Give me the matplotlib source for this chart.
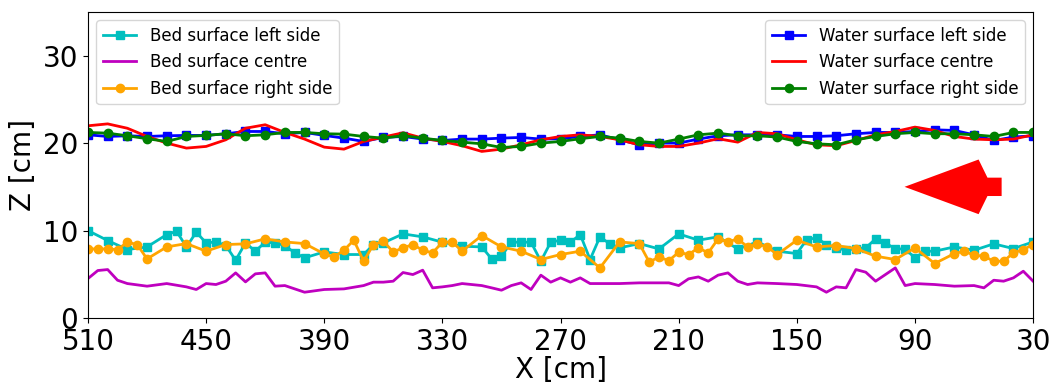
import numpy as np
import matplotlib
matplotlib.use("Agg")
import matplotlib.pyplot as plt

# water surface, measured every 10 cm
x_water = np.arange(510, 29, -10)
water_left = [20.95, 20.76, 20.84, 20.76, 20.84, 20.88, 20.88, 21.07, 21.33, 21.33, 21.07, 21.22, 20.88, 20.57, 20.19, 20.65, 20.76,
              20.46, 20.30, 20.46, 20.46, 20.57, 20.65, 20.46, 20.50, 20.76, 20.95, 20.38, 19.81, 20.00, 20.00, 20.46, 20.84,
              20.95, 20.95, 20.95, 20.76, 20.76, 20.84, 21.07, 21.22, 21.22, 21.33, 21.52, 21.45, 20.95, 20.30, 20.69, 20.84]
water_centre = [21.98, 22.20, 21.70, 20.76, 20.00, 19.43, 19.62, 20.38, 21.70, 22.10, 21.22, 20.46, 19.54, 19.31, 20.19, 20.69, 21.18,
                20.57, 20.19, 19.70, 19.05, 19.31, 19.81, 20.38, 20.76, 20.95, 20.76, 20.38, 19.81, 19.62, 19.62, 20.00, 20.50,
                20.11, 21.22, 21.07, 20.38, 19.81, 19.70, 20.30, 20.95, 21.33, 21.83, 21.45, 20.76, 20.46, 20.38, 20.46, 20.95]
water_right = [21.22, 21.14, 20.84, 20.50, 20.19, 20.76, 20.88, 21.07, 20.84, 20.95, 21.22, 21.22, 21.07, 21.03, 20.76, 20.57, 20.85,
               20.57, 20.30, 20.11, 19.92, 19.50, 19.62, 20.00, 20.19, 20.50, 20.76, 20.57, 20.19, 20.00, 20.46, 20.95, 21.14,
               20.84, 20.84, 20.69, 20.19, 19.92, 19.81, 20.38, 20.76, 21.07, 21.22, 21.07, 21.07, 20.95, 20.76, 21.22, 21.22]

# bed surface
x_bed_left = [510, 500, 490, 480, 470, 465, 460, 455, 450, 445, 440, 435, 430, 425, 420, 415, 410, 405, 400, 390, 380, 370, 365, 360, 350,
              340, 330, 320, 310, 305, 300, 295, 290, 285, 280, 275, 270, 265, 260, 255, 250, 245, 240, 230, 220, 210, 200, 190,
              180, 170, 160, 150, 145, 140, 135, 130, 125, 120, 115, 110, 105, 100, 95, 90, 85, 80, 70, 60, 50, 40, 30]
bed_left = [10.0, 8.86, 7.83, 8.13, 9.54, 9.92, 8.13, 9.81, 8.59, 8.70, 8.29, 6.61, 8.59, 7.64, 8.67, 8.59, 8.29, 7.45, 6.88, 7.56, 7.26, 7.26, 8.40, 8.59, 9.62,
            9.28, 8.67, 8.21, 8.13, 6.76, 7.07, 8.67, 8.67, 8.67, 6.50, 8.67, 8.90, 8.67, 9.54, 6.69, 9.28, 8.48, 8.02, 8.51, 7.90, 9.62, 8.90, 9.28,
            7.90, 8.70, 7.64, 7.37, 8.97, 9.16, 8.40, 8.02, 7.75, 7.94, 8.02, 9.05, 8.59, 7.90, 7.90, 6.88, 7.64, 7.64, 8.13, 7.75, 8.48, 7.94, 8.70]

x_bed_centre = [510, 505, 500, 495, 490, 480, 470, 460, 455, 450, 445, 440, 435, 430, 425, 420, 415, 410, 405, 400, 390, 380, 370, 365, 360, 355, 350,
                345, 340, 335, 330, 325, 320, 310, 305, 300, 295, 290, 285, 280, 275, 270, 265, 260, 255, 250, 240, 230, 220, 215, 210, 205, 200, 195, 190, 185,
                180, 175, 170, 160, 150, 140, 135, 130, 125, 120, 115, 110, 105, 100, 95, 90, 80, 70, 60, 55, 50, 45, 40, 35, 30]
bed_centre = [4.51, 5.43, 5.54, 4.32, 3.94, 3.64, 3.94, 3.56, 3.26, 3.94, 3.83, 4.21, 5.16, 4.13, 5.05, 5.16, 3.64, 3.71, 3.33, 2.95, 3.26, 3.33, 3.71, 4.10, 4.10, 4.21, 5.20,
              4.97, 5.47, 3.45, 3.56, 3.71, 3.94, 3.71, 3.45, 3.18, 3.71, 4.02, 3.26, 4.90, 4.10, 4.59, 4.10, 4.59, 3.94, 3.94, 3.94, 4.02, 4.02, 4.02, 3.71, 4.48, 4.70, 4.21, 4.90, 5.16,
              4.21, 3.83, 4.02, 3.94, 3.83, 3.56, 2.95, 3.56, 3.45, 5.54, 5.24, 4.21, 4.97, 5.73, 3.71, 3.94, 3.83, 3.64, 3.71, 3.45, 4.32, 4.21, 4.59, 5.35, 4.21]

x_bed_right = [510, 505, 500, 495, 490, 485, 480, 470, 460, 450, 440, 430, 420, 410, 400, 390, 385, 380, 375, 370, 365, 360, 355, 350,
               345, 340, 335, 330, 325, 320, 310, 300, 290, 280, 270, 260, 250, 240, 230, 225, 220, 215, 210, 205, 200, 195, 190, 185,
               180, 175, 170, 165, 160, 150, 140, 130, 120, 110, 100, 90, 80, 70, 65, 60, 55, 50, 45, 40, 35, 30]
bed_right = [7.90, 7.90, 7.90, 7.83, 8.67, 8.40, 6.76, 8.13, 8.51, 7.64, 8.40, 8.48, 9.05, 8.70, 8.51, 7.33, 6.99, 7.75, 8.90, 6.50, 8.40, 8.78, 7.56, 8.02,
             8.40, 7.75, 7.45, 8.67, 8.70, 7.64, 9.43, 8.13, 7.64, 6.69, 7.26, 7.64, 5.73, 8.70, 8.51, 6.42, 6.95, 6.57, 7.52, 7.26, 8.02, 7.45, 9.05, 8.70,
             9.05, 8.13, 8.48, 8.13, 7.26, 8.90, 8.13, 8.29, 7.94, 7.07, 6.69, 8.02, 6.23, 7.37, 7.64, 7.18, 7.07, 6.50, 6.50, 7.45, 7.83, 8.40]

x_ticks = [510, 450, 390, 330, 270, 210, 150, 90, 30]
y_ticks = [0, 10, 20, 30]

fig = plt.figure(figsize=(10.51, 3.85), dpi=100)
ax = fig.add_axes([0.0837, 0.174, 0.8993, 0.795])

bed_lines = []
bed_lines += ax.plot(x_bed_left, bed_left, 'c-s', lw=2, ms=6, label='Bed surface left side')
bed_lines += ax.plot(x_bed_centre, bed_centre, 'm-', lw=2, label='Bed surface centre')
bed_lines += ax.plot(x_bed_right, bed_right, '-o', color='orange', lw=2, ms=6, label='Bed surface right side')

water_lines = []
water_lines += ax.plot(x_water, water_left, 'b-s', lw=2, ms=6, label='Water surface left side')
water_lines += ax.plot(x_water, water_centre, 'r-', lw=2, label='Water surface centre')
water_lines += ax.plot(x_water, water_right, 'g-o', lw=2, ms=6, label='Water surface right side')

# flow direction arrow
ax.arrow(46, 15, 49.3, 0, width=2.1, head_width=6.25, head_length=37.6, overhang=-0.12,
         length_includes_head=True, color='red', lw=0)

ax.set_xlim(510, 30)
ax.set_ylim(0, 35)
ax.set_xticks(x_ticks)
ax.set_yticks(y_ticks)
ax.tick_params(labelsize=20)
ax.set_xlabel('X [cm]', fontsize=20, labelpad=0)
ax.set_ylabel('Z [cm]', fontsize=20, labelpad=4)

leg1 = ax.legend(handles=bed_lines, loc='upper left', fontsize=12)
ax.add_artist(leg1)
ax.legend(handles=water_lines, loc='upper right', fontsize=12)

fig.savefig('out.png', dpi=100)
